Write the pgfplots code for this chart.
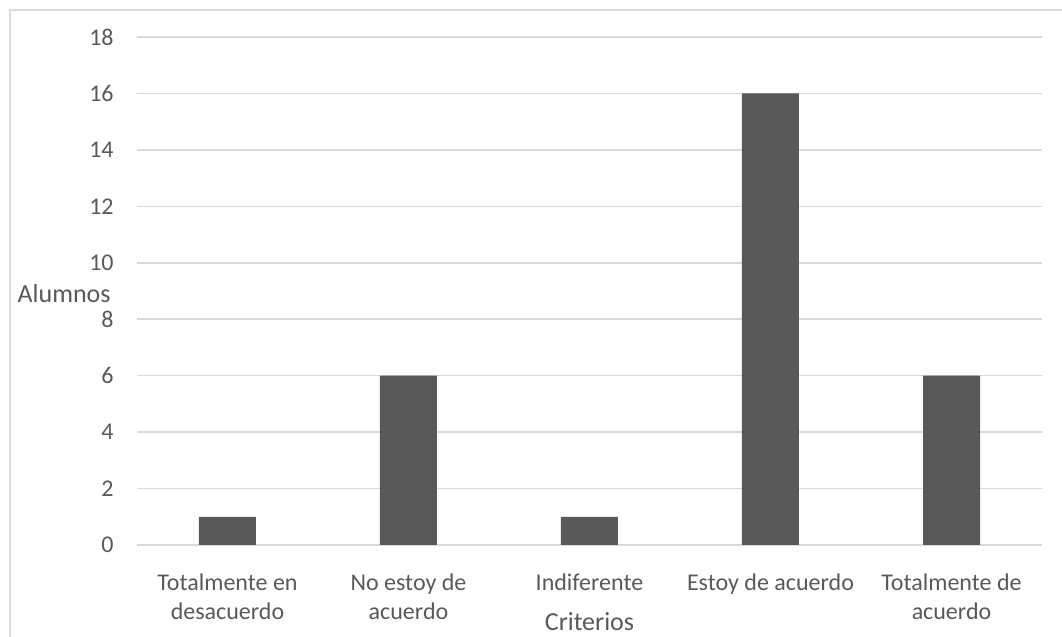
\documentclass[border=0pt]{standalone}
\usepackage{pgfplots}
\pgfplotsset{compat=1.18}
\usepackage{fontspec}
\setmainfont{Carlito}
\definecolor{barfill}{HTML}{595959}
\definecolor{gridcol}{HTML}{D9D9D9}
\definecolor{txt}{HTML}{595959}
\begin{document}
\begin{tikzpicture}
\path[use as bounding box] (-68.5pt,-46pt) rectangle (462.5pt,272.5pt);
% chart area frame
\draw[gridcol, line width=0.8pt] (-63.5pt,-60pt) -- (-63.5pt,267.5pt) -- (480pt,267.5pt);
\begin{axis}[
  at={(0pt,0pt)}, anchor=south west,
  scale only axis,
  width=452.5pt, height=254pt,
  xmin=-0.5, xmax=4.5,
  ymin=0, ymax=18,
  ytick={0,2,...,18},
  xtick={0,1,2,3,4},
  xticklabels={{Totalmente en\\desacuerdo},{No estoy de\\acuerdo},{Indiferente},{Estoy de acuerdo},{Totalmente de\\acuerdo}},
  /pgf/number format/assume math mode=true,
  font=\fontsize{12pt}{14.5pt}\selectfont,
  tick style={draw=none},
  axis line style={draw=none},
  ymajorgrids,
  major grid style={gridcol, line width=0.8pt},
  yticklabel style={anchor=east, inner sep=0pt, xshift=-11.5pt, text=txt},
  xticklabel style={anchor=north, inner sep=0pt, yshift=-10pt, align=center, text=txt},
  ylabel={Alumnos},
  ylabel style={rotate=-90, anchor=east, inner sep=0pt, at={(axis description cs:0,0.494)}, xshift=-13pt, text=txt, font=\fontsize{13pt}{15.6pt}\selectfont},
  xlabel={Criterios},
  xlabel style={anchor=base, inner sep=0pt, at={(axis description cs:0.5,0)}, yshift=-43pt, text=txt, font=\fontsize{13pt}{15.6pt}\selectfont},
  ybar, bar width=28.5pt,
]
\addplot[fill=barfill, draw=none] coordinates {(0,1) (1,6) (2,1) (3,16) (4,6)};
\end{axis}
\end{tikzpicture}
\end{document}
